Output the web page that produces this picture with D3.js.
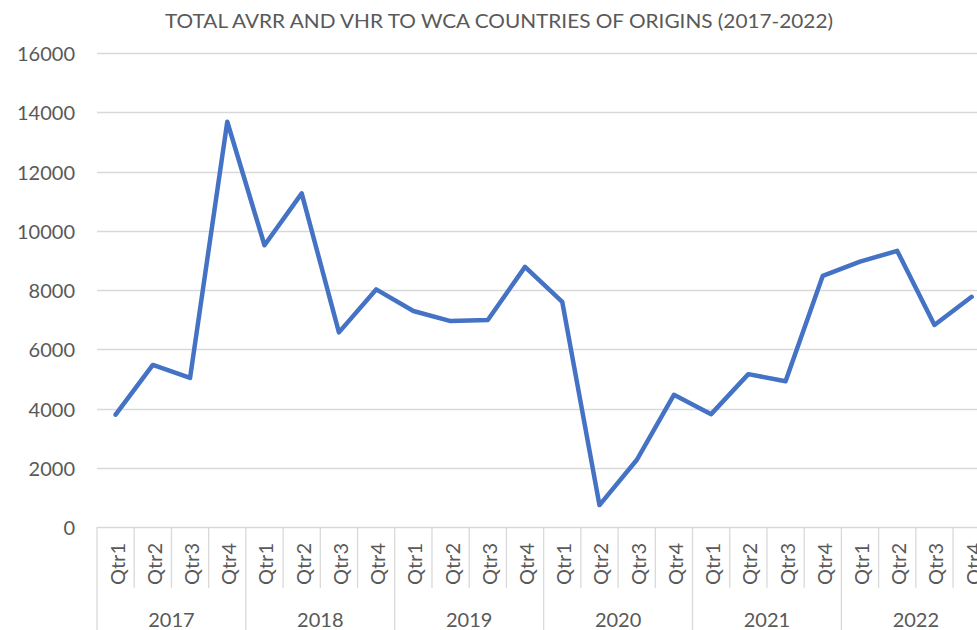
<!DOCTYPE html>
<html><head><meta charset="utf-8">
<script src="https://cdn.jsdelivr.net/npm/d3@7"></script>
<style>body{margin:0;background:#fff;} text{font-family:Lato,"Open Sans",sans-serif;fill:#595959;}</style>
</head><body>
<script>
const years = ["2017","2018","2019","2020","2021","2022"];
const quarters = ["Qtr1","Qtr2","Qtr3","Qtr4"];
const values = [3790,5470,5030,13680,9510,11260,6570,8020,7290,6950,6990,8780,7600,740,2260,4460,3810,5160,4920,8480,8960,9320,6820,7770];
const yTicks = [0,2000,4000,6000,8000,10000,12000,14000,16000];
const title = "TOTAL AVRR AND VHR TO WCA COUNTRIES OF ORIGINS (2017-2022)";

const W=977,H=630;
const mLeft=97, bw=37.22, mTop=53, mBottom=527;
const cats = [];
years.forEach(y=>quarters.forEach(q=>cats.push(y+"-"+q)));
const data = cats.map((c,i)=>({c, y:c.split("-")[0], q:c.split("-")[1], v:values[i]}));

const svg=d3.select("body").append("svg").attr("width",W).attr("height",H);
const x=d3.scaleBand().domain(cats).range([mLeft,mLeft+bw*cats.length]);
const y=d3.scaleLinear().domain([0,16000]).range([mBottom,mTop]);

svg.append("text").attr("x",499).attr("y",28).attr("text-anchor","middle")
  .attr("textLength",668).attr("lengthAdjust","spacingAndGlyphs")
  .style("font-size","19.5px").style("font-weight","400").text(title);

svg.append("g").selectAll("line").data(yTicks).join("line")
  .attr("x1",mLeft).attr("x2",W).attr("y1",d=>Math.round(y(d))+0.5).attr("y2",d=>Math.round(y(d))+0.5)
  .attr("stroke","#d9d9d9").attr("stroke-width",1.3);
svg.append("g").selectAll("text").data(yTicks).join("text")
  .attr("x",75).attr("y",d=>y(d)).attr("text-anchor","end").attr("dominant-baseline","central")
  .style("font-size","20px").text(d=>d);

// category separators
svg.append("g").selectAll("line").data(cats.concat(["end"])).join("line")
  .attr("x1",(d,i)=>mLeft+i*bw).attr("x2",(d,i)=>mLeft+i*bw)
  .attr("y1",mBottom).attr("y2",(d,i)=>i%4===0?H:588)
  .attr("stroke","#d9d9d9").attr("stroke-width",1.3);

svg.append("g").selectAll("text").data(data).join("text")
  .attr("transform",d=>`translate(${x(d.c)+x.bandwidth()/2+1},564) rotate(-90)`)
  .attr("text-anchor","middle").attr("dominant-baseline","central")
  .style("font-size","20px").text(d=>d.q);

svg.append("g").selectAll("text").data(years).join("text")
  .attr("x",(d,i)=>mLeft+(i*4+2)*bw).attr("y",627).attr("text-anchor","middle")
  .style("font-size","20px").text(d=>d);

svg.append("path").datum(data)
  .attr("d",d3.line().x(d=>x(d.c)+x.bandwidth()/2).y(d=>y(d.v)))
  .attr("fill","none").attr("stroke","#4472C4").attr("stroke-width",4.5)
  .attr("stroke-linejoin","round").attr("stroke-linecap","round");
</script>
</body></html>
